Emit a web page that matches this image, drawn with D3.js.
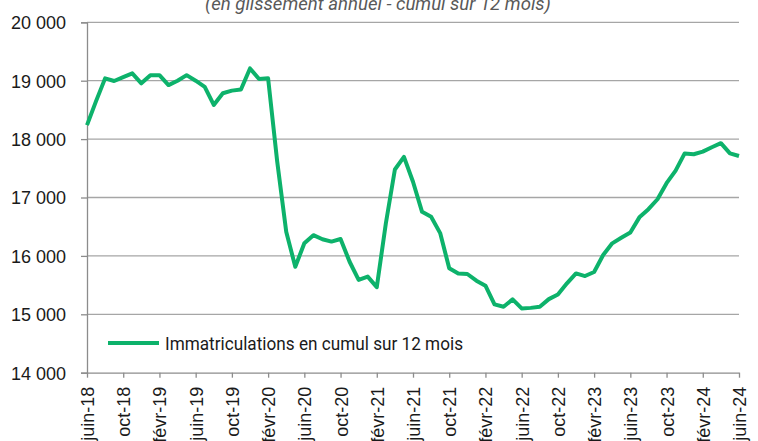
<!DOCTYPE html>
<meta charset="utf-8">
<style>
  body { margin: 0; background: #fff; }
  svg { display: block; font-family: Roboto, "Liberation Sans", sans-serif; }
  .grid line { stroke: #a6a6a6; stroke-width: 1.3px; }
  .axis path, .axis line { stroke: #8c8c8c; stroke-width: 1.3px; }
  .axis text { font-size: 18px; fill: #1a1a1a; }
  .line { fill: none; stroke: #0db26b; stroke-width: 4px; stroke-linejoin: round; }
</style>
<body>
<script src="https://d3js.org/d3.v7.min.js"></script>
<script>
  // monthly values, juin-18 .. juin-24
  var values = [
    18240, 18650, 19040, 18995, 19060, 19125, 18955, 19095, 19095, 18925,
    19000, 19095, 19000, 18895, 18585, 18785, 18830, 18850, 19210, 19030,
    19040, 17620, 16415, 15815, 16215, 16355, 16285, 16245, 16290, 15900,
    15590, 15645, 15465, 16555, 17480, 17695, 17270, 16755, 16670, 16390,
    15790, 15700, 15690, 15575, 15490, 15170, 15130, 15255, 15100, 15110,
    15130, 15260, 15340, 15530, 15700, 15655, 15725, 16015, 16215, 16310,
    16400, 16660, 16800, 16970, 17245, 17460, 17755, 17740, 17785, 17860,
    17930, 17755, 17710
  ];

  var tickLabels = [
    "juin-18", "oct-18", "févr-19", "juin-19", "oct-19", "févr-20", "juin-20",
    "oct-20", "févr-21", "juin-21", "oct-21", "févr-22", "juin-22", "oct-22",
    "févr-23", "juin-23", "oct-23", "févr-24", "juin-24"
  ];
  var tickStep = 4;

  var yTicks = [14000, 15000, 16000, 17000, 18000, 19000, 20000];
  var seriesName = "Immatriculations en cumul sur 12 mois";
  var title = "(en glissement annuel - cumul sur 12 mois)";

  var W = 758, H = 441;
  var margin = { top: 22.3, right: 19, bottom: 68.3, left: 87 },
      width = W - margin.left - margin.right,
      height = H - margin.top - margin.bottom;

  var svg = d3.select("body").append("svg")
      .attr("width", W)
      .attr("height", H);

  var g = svg.append("g")
      .attr("transform", "translate(" + margin.left + "," + margin.top + ")");

  var x = d3.scaleLinear().domain([0, values.length - 1]).range([0, width]),
      y = d3.scaleLinear().domain([14000, 20000]).range([height, 0]);

  var fmt = function (d) { return d3.format(",")(d).replace(",", " "); };

  // gridlines
  g.append("g")
      .attr("class", "grid")
      .selectAll("line")
      .data(yTicks.slice(1))
      .enter().append("line")
      .attr("x1", 0).attr("x2", width)
      .attr("y1", function (d) { return y(d); })
      .attr("y2", function (d) { return y(d); });

  // y axis
  var yAxis = g.append("g")
      .attr("class", "axis")
      .call(d3.axisLeft(y).tickValues(yTicks).tickFormat(fmt).tickSize(6).tickPadding(15));
  yAxis.selectAll("text").attr("dy", "0.36em");

  // x axis
  var xTickVals = tickLabels.map(function (d, i) { return i * tickStep; });
  var xAxis = g.append("g")
      .attr("class", "axis")
      .attr("transform", "translate(0," + height + ")")
      .call(d3.axisBottom(x).tickValues(xTickVals)
        .tickFormat(function (d, i) { return tickLabels[i]; })
        .tickSize(5).tickSizeOuter(0));
  xAxis.selectAll("text")
      .attr("transform", "rotate(-90)")
      .attr("text-anchor", "end")
      .attr("x", -14)
      .attr("y", 0)
      .attr("dy", "0.36em");

  // series line
  g.append("path")
      .datum(values)
      .attr("class", "line")
      .attr("d", d3.line()
        .x(function (d, i) { return x(i); })
        .y(function (d) { return y(d); }));

  // legend
  var leg = svg.append("g").attr("transform", "translate(108,343)");
  leg.append("line")
      .attr("x1", 0).attr("x2", 51)
      .attr("stroke", "#0db26b").attr("stroke-width", 4);
  leg.append("text")
      .attr("x", 57).attr("dy", "0.36em")
      .attr("textLength", 298).attr("lengthAdjust", "spacingAndGlyphs")
      .style("font-size", "19px").style("fill", "#1a1a1a")
      .text(seriesName);

  // title (partly cut off at top)
  svg.append("text")
      .attr("x", 378).attr("y", 10)
      .attr("text-anchor", "middle")
      .style("font-size", "18.6px").style("font-style", "italic").style("fill", "#595959")
      .text(title);
</script>
</body>
